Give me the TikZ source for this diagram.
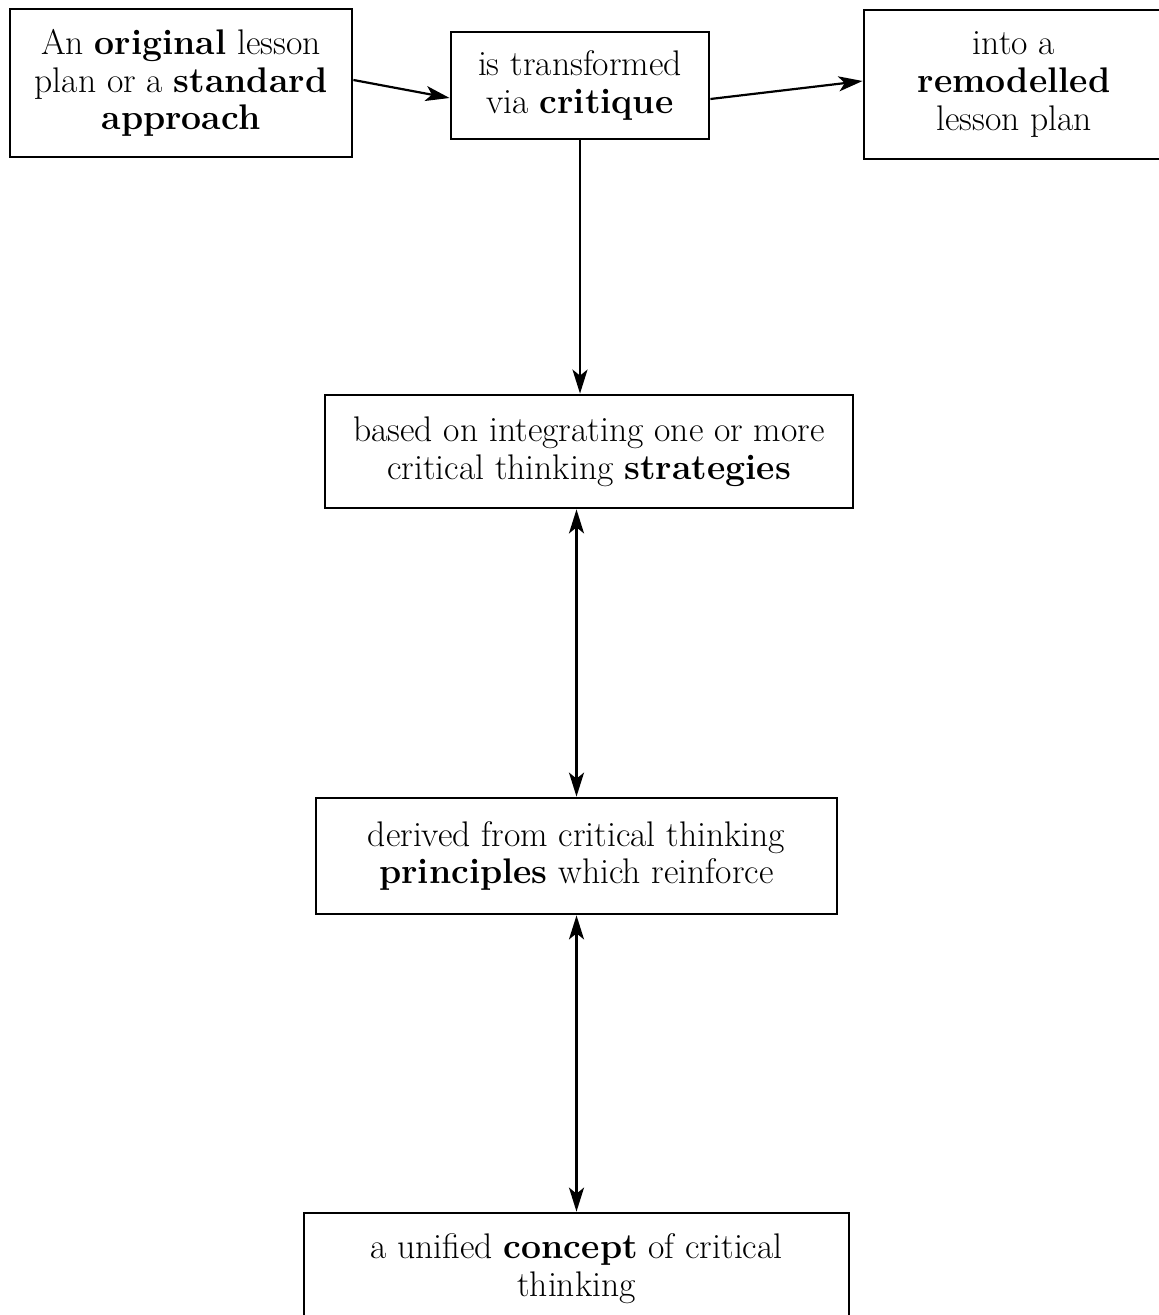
\documentclass[tikz,border=0pt]{standalone}
\usetikzlibrary{arrows.meta}
\begin{document}
\begin{tikzpicture}[x=0.5pt,y=-0.5pt,
  box/.style={draw, line width=1.4pt, align=center, inner sep=0pt,
    font=\fontsize{17.8}{18.9}\selectfont},
  arr/.style={line width=1.1pt, -{Stealth[length=12pt,width=7.5pt,inset=3pt]}},
  darr/.style={line width=1.1pt, {Stealth[length=12pt,width=7.5pt,inset=3pt]}-{Stealth[length=12pt,width=7.5pt,inset=3pt]}}]
\useasboundingbox (0,0) rectangle (1158,1315);
\node[box, minimum width=171pt, minimum height=74pt] (b1) at (181,83)
  {An \textbf{original} lesson\\ plan or a \textbf{standard}\\ \textbf{approach}};
\node[box, minimum width=129pt, minimum height=53.5pt] (b2) at (580,85.5)
  {is transformed\\ via \textbf{critique}};
\node[box, minimum width=150pt, minimum height=74.5pt] (b3) at (1014,84.5)
  {into a\\ \textbf{remodelled}\\ lesson plan};
\node[box, minimum width=264pt, minimum height=56.5pt] (b4) at (589,451.5)
  {based on integrating one or more\\ critical thinking \textbf{strategies}};
\node[box, minimum width=260.5pt, minimum height=58pt] (b5) at (576.5,856)
  {derived from critical thinking\\ \textbf{principles} which reinforce};
\node[box, minimum width=272.5pt, minimum height=56pt] (b6) at (576.5,1269)
  {a unified \textbf{concept} of critical\\ thinking};
\draw[arr] ([yshift=1.5pt]b1.east) -- ([yshift=-6.25pt]b2.west);
\draw[arr] ([yshift=-6.75pt]b2.east) -- ([yshift=1.75pt]b3.west);
\draw[arr] (b2.south) -- (b2.south |- b4.north);
\draw[darr] (b5.north |- b4.south) -- (b5.north);
\draw[darr] (b5.south) -- (b5.south |- b6.north);
\end{tikzpicture}
\end{document}
